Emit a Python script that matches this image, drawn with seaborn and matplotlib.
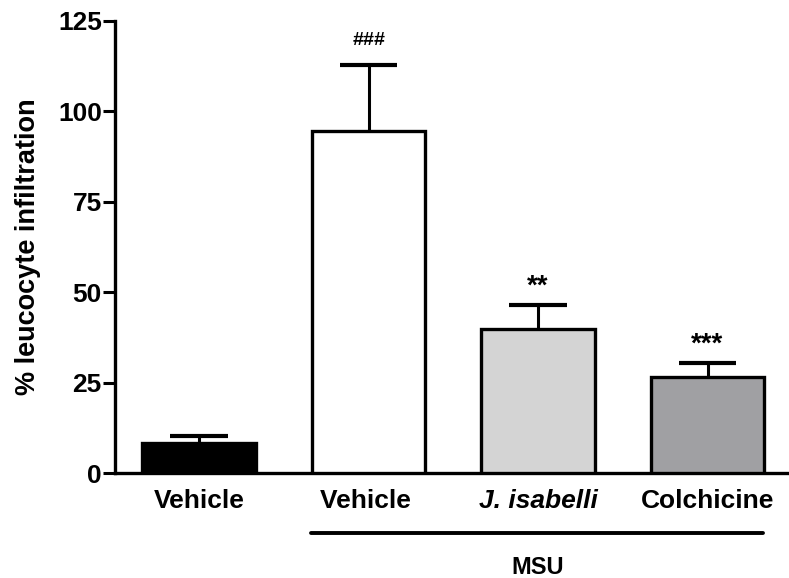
import matplotlib
matplotlib.use('Agg')
import matplotlib.pyplot as plt
import matplotlib.transforms as mtransforms
import seaborn as sns
import pandas as pd

# data
groups = ['Vehicle', 'Vehicle ', 'J. isabelli', 'Colchicine']
means = [8.4, 94.5, 39.8, 26.5]
sem = [1.9, 18.3, 6.7, 3.9]
signif = ['', '###', '**', '***']
bar_colors = ['#000000', '#ffffff', '#d4d4d4', '#a09fa4']

df = pd.DataFrame({'group': groups, 'value': means})

sns.set_style('ticks')
plt.rcParams['font.family'] = ['Liberation Sans', 'DejaVu Sans']
plt.rcParams['font.weight'] = 'bold'
plt.rcParams['text.color'] = 'black'
plt.rcParams['axes.labelcolor'] = 'black'
plt.rcParams['xtick.color'] = 'black'
plt.rcParams['ytick.color'] = 'black'
plt.rcParams['axes.edgecolor'] = 'black'

fig = plt.figure(figsize=(7.89, 5.78), dpi=100)
ax = fig.add_axes([0.1458, 0.181, 0.854, 0.7827])

sns.barplot(data=df, x='group', y='value', hue='group', palette=bar_colors,
            legend=False, errorbar=None, width=0.67,
            edgecolor='black', linewidth=2.4, ax=ax, zorder=3)

# upward-only error bars (stem + cap)
xs = list(range(len(groups)))
tops = [m + s for m, s in zip(means, sem)]
ax.vlines(xs, means, tops, color='black', lw=2.2, zorder=2)
ax.hlines(tops, [x - 0.17 for x in xs], [x + 0.17 for x in xs],
          color='black', lw=3, zorder=2)

# significance marks
for i, txt in enumerate(signif):
    if not txt:
        continue
    if txt.startswith('#'):
        ax.text(i, tops[i] + 4.5, txt, ha='center', va='bottom', fontsize=14, fontweight='bold')
    else:
        ax.text(i, tops[i] + 1.5, txt, ha='center', va='bottom', fontsize=20, fontweight='bold')

ax.set_xlim(-0.497, 3.48)
ax.set_ylim(0, 125)
ax.set_yticks([0, 25, 50, 75, 100, 125])
ax.set_xlabel('')
ax.set_ylabel('% leucocyte infiltration', fontsize=19.5, fontweight='bold', labelpad=12)

for side in ['top', 'right']:
    ax.spines[side].set_visible(False)
for side in ['left', 'bottom']:
    ax.spines[side].set_linewidth(2.4)

ax.tick_params(axis='y', width=2.2, length=8.5, labelsize=19, pad=1)
ax.tick_params(axis='x', length=0, labelsize=19, pad=11)
for lab in ax.get_yticklabels() + ax.get_xticklabels():
    lab.set_fontweight('bold')
ax.get_xticklabels()[2].set_style('italic')

# MSU bracket under the treated groups
trans = mtransforms.blended_transform_factory(ax.transData, ax.transAxes)
ax.plot([0.66, 3.33], [-0.131, -0.131], color='black', lw=2.8,
        transform=trans, clip_on=False, solid_capstyle='round')
ax.text(2.0, -0.207, 'MSU', transform=trans, ha='center', va='center',
        fontsize=17, fontweight='bold')

fig.savefig('out.png', dpi=100, facecolor='white')
